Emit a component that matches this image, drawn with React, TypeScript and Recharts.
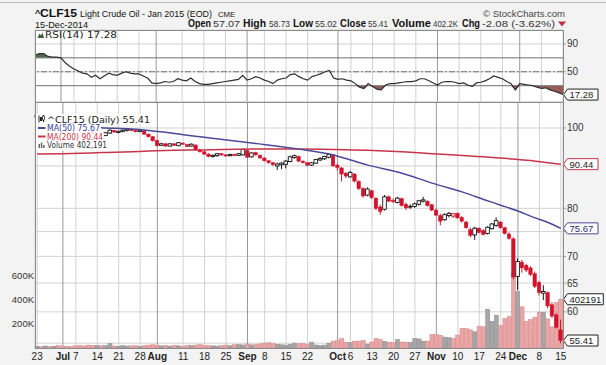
import React from 'react'
import {
  ComposedChart,
  Bar,
  Line,
  Area,
  XAxis,
  YAxis,
  CartesianGrid,
  ReferenceLine,
} from 'recharts'

// trading days shown on the chart
const dates = [
  'Jun 23', 'Jun 24', 'Jun 25', 'Jun 26', 'Jun 27', 'Jun 30',
  'Jul 1', 'Jul 2', 'Jul 3', 'Jul 7', 'Jul 8', 'Jul 9', 'Jul 10', 'Jul 11',
  'Jul 14', 'Jul 15', 'Jul 16', 'Jul 17', 'Jul 18',
  'Jul 21', 'Jul 22', 'Jul 23', 'Jul 24', 'Jul 25',
  'Jul 28', 'Jul 29', 'Jul 30', 'Jul 31', 'Aug 1',
  'Aug 4', 'Aug 5', 'Aug 6', 'Aug 7', 'Aug 8',
  'Aug 11', 'Aug 12', 'Aug 13', 'Aug 14', 'Aug 15',
  'Aug 18', 'Aug 19', 'Aug 20', 'Aug 21', 'Aug 22',
  'Aug 25', 'Aug 26', 'Aug 27', 'Aug 28', 'Aug 29',
  'Sep 2', 'Sep 3', 'Sep 4', 'Sep 5',
  'Sep 8', 'Sep 9', 'Sep 10', 'Sep 11', 'Sep 12',
  'Sep 15', 'Sep 16', 'Sep 17', 'Sep 18', 'Sep 19',
  'Sep 22', 'Sep 23', 'Sep 24', 'Sep 25', 'Sep 26',
  'Sep 29', 'Sep 30',
  'Oct 1', 'Oct 2', 'Oct 3',
  'Oct 6', 'Oct 7', 'Oct 8', 'Oct 9', 'Oct 10',
  'Oct 13', 'Oct 14', 'Oct 15', 'Oct 16', 'Oct 17',
  'Oct 20', 'Oct 21', 'Oct 22', 'Oct 23', 'Oct 24',
  'Oct 27', 'Oct 28', 'Oct 29', 'Oct 30', 'Oct 31',
  'Nov 3', 'Nov 4', 'Nov 5', 'Nov 6', 'Nov 7',
  'Nov 10', 'Nov 11', 'Nov 12', 'Nov 13', 'Nov 14',
  'Nov 17', 'Nov 18', 'Nov 19', 'Nov 20', 'Nov 21',
  'Nov 24', 'Nov 25', 'Nov 26', 'Nov 28',
  'Dec 1', 'Dec 2', 'Dec 3', 'Dec 4', 'Dec 5',
  'Dec 8', 'Dec 9', 'Dec 10', 'Dec 11', 'Dec 12',
  'Dec 15',
]

const opens = [
  103.4, 103.6, 103.2, 103.5, 103.0, 103.1, 102.6, 102.3, 101.6, 101.0,
  100.4, 99.9, 99.2, 98.9, 98.0, 98.3, 97.9, 98.6, 99.3, 98.8,
  99.1, 99.4, 99.6, 99.3, 99.0, 99.2, 98.3, 97.6, 96.6, 95.3,
  95.7, 95.1, 95.7, 95.2, 95.9, 95.5, 95.1, 95.4, 94.1, 93.6,
  93.0, 92.4, 92.6, 93.1, 92.8, 92.6, 92.9, 92.7, 92.8, 94.0,
  92.3, 93.4, 92.7, 92.0, 91.3, 90.8, 90.0, 90.3, 90.4, 91.1,
  92.1, 92.4, 91.2, 90.8, 90.2, 90.7, 91.5, 91.8, 92.2, 92.9,
  90.2, 89.5, 88.2, 87.3, 88.0, 86.2, 84.5, 83.0, 84.0, 82.3,
  80.3, 79.8, 82.6, 81.8, 81.3, 82.2, 80.9, 80.5, 80.4, 80.9,
  81.6, 81.6, 80.8, 79.6, 78.4, 77.5, 78.4, 78.3, 78.9, 78.0,
  77.0, 75.4, 74.3, 75.7, 75.2, 74.6, 75.6, 76.3, 77.0, 75.8,
  74.5, 73.5, 66.2, 68.9, 68.3, 67.8, 66.7, 65.1, 63.2, 63.3,
  61.2, 59.5, 57.07,
]

const highs = [
  103.9, 104.0, 103.8, 103.7, 103.4, 103.3, 103.0, 102.5, 101.9, 101.3,
  100.8, 100.1, 99.6, 99.1, 98.6, 98.5, 98.9, 99.6, 99.5, 99.3,
  99.6, 99.9, 99.8, 99.5, 99.6, 99.4, 98.5, 97.8, 96.8, 96.0,
  95.9, 95.9, 95.9, 96.2, 96.1, 95.7, 95.8, 95.5, 94.4, 93.8,
  93.2, 92.9, 93.3, 93.3, 93.0, 93.1, 93.1, 93.3, 94.5, 94.2,
  93.5, 93.6, 92.9, 92.2, 91.5, 91.0, 90.8, 91.0, 91.5, 92.6,
  92.9, 92.6, 91.4, 91.0, 91.0, 91.8, 92.2, 92.6, 93.2, 93.0,
  90.6, 89.7, 88.5, 88.8, 88.2, 86.5, 84.8, 84.8, 84.2, 82.5,
  80.8, 83.0, 82.9, 82.2, 82.6, 82.4, 81.3, 80.9, 81.3, 81.9,
  82.6, 81.8, 81.0, 79.9, 78.8, 78.9, 79.2, 79.0, 79.1, 78.3,
  77.3, 75.8, 76.0, 75.9, 75.5, 76.1, 76.8, 78.0, 77.2, 76.0,
  74.8, 73.8, 69.6, 69.3, 68.6, 68.1, 67.1, 65.4, 64.6, 63.5,
  61.6, 59.8, 58.73,
]

const lows = [
  102.9, 103.0, 102.7, 102.8, 102.6, 102.3, 102.0, 101.4, 100.9, 100.2,
  99.6, 99.0, 98.6, 97.8, 97.7, 97.6, 97.8, 98.4, 98.6, 98.5,
  98.8, 99.0, 99.1, 98.8, 98.9, 98.1, 97.4, 96.3, 95.0, 95.1,
  94.9, 95.0, 95.1, 95.1, 95.4, 94.8, 94.9, 93.9, 93.4, 92.8,
  92.2, 92.1, 92.3, 92.6, 92.4, 92.4, 92.5, 92.6, 92.6, 92.0,
  92.1, 92.6, 91.8, 91.1, 90.6, 90.0, 89.0, 89.2, 89.4, 90.9,
  91.8, 91.0, 90.6, 89.9, 90.0, 90.5, 91.2, 91.5, 91.9, 89.8,
  88.9, 86.2, 87.0, 87.1, 86.0, 84.2, 82.4, 82.7, 82.1, 79.6,
  78.6, 79.5, 81.4, 81.2, 81.1, 80.4, 79.6, 79.9, 80.1, 80.6,
  81.3, 80.4, 79.4, 78.3, 76.3, 77.3, 78.0, 77.9, 77.7, 76.9,
  75.6, 73.8, 73.3, 74.6, 74.2, 74.4, 75.4, 76.0, 75.6, 74.4,
  73.3, 65.7, 63.8, 66.9, 67.0, 66.3, 64.1, 62.8, 62.0, 60.6,
  59.0, 57.3, 55.02,
]

const closes = [
  103.5, 103.3, 103.6, 103.0, 103.1, 102.6, 102.3, 101.6, 101.1, 100.4,
  99.9, 99.2, 99.0, 98.0, 98.4, 97.9, 98.7, 99.4, 98.9, 99.1,
  99.4, 99.7, 99.3, 99.1, 99.4, 98.3, 97.6, 96.5, 95.2, 95.7,
  95.1, 95.7, 95.3, 96.0, 95.6, 95.0, 95.6, 94.1, 93.6, 93.0,
  92.4, 92.7, 93.1, 92.8, 92.6, 92.9, 92.7, 93.1, 94.2, 92.2,
  93.3, 92.8, 92.0, 91.3, 90.8, 90.3, 90.5, 90.7, 91.2, 92.3,
  92.6, 91.2, 90.8, 90.2, 90.8, 91.6, 91.9, 92.4, 92.9, 90.0,
  89.6, 88.0, 87.5, 88.4, 86.3, 84.5, 82.8, 84.4, 82.4, 80.0,
  79.3, 82.6, 81.6, 81.5, 82.3, 80.6, 80.1, 80.3, 81.0, 81.7,
  81.9, 80.6, 79.6, 78.5, 77.2, 78.6, 78.9, 78.8, 77.9, 77.2,
  75.8, 74.2, 75.7, 74.8, 74.4, 75.9, 76.6, 77.3, 75.8, 74.6,
  73.6, 66.1, 69.0, 67.8, 67.4, 66.6, 64.4, 63.3, 63.5, 61.0,
  59.3, 57.49, 55.41,
]

const volumes = [
  14000, 12000, 17000, 13000, 15000, 19000, 16000, 14000, 11000, 18000,
  21000, 17000, 24000, 20000, 22000, 18000, 20000, 36000, 17000, 15000,
  21000, 16000, 18000, 19000, 14000, 20000, 24000, 27000, 22000, 18000,
  21000, 16000, 23000, 18000, 15000, 22000, 20000, 25000, 27000, 22000,
  20000, 18000, 16000, 21000, 24000, 19000, 27000, 29000, 25000, 33000,
  26000, 28000, 34000, 40000, 44000, 38000, 30000, 27000, 24000, 30000,
  40000, 35000, 37000, 30000, 48000, 25000, 20000, 24000, 40000, 57000,
  62000, 79000, 48000, 45000, 57000, 57000, 62000, 32000, 50000, 79000,
  70000, 55000, 48000, 45000, 70000, 50000, 48000, 45000, 79000, 75000,
  57000, 57000, 113000, 110000, 105000, 90000, 85000, 80000, 107000, 162000,
  160000, 150000, 134000, 180000, 175000, 320000, 221000, 271000, 187000, 243000,
  260000, 620000, 465000, 340000, 220000, 235000, 255000, 296000, 296000, 240000,
  175000, 375000, 402191,
]

const rsi14 = [
  74, 76, 76, 72, 71, 71, 70, 63, 58, 54,
  51, 48, 47, 42, 45, 40, 44, 48, 46, 45,
  48, 50, 48, 47, 47, 44, 41, 34, 33, 34,
  36, 35, 36, 40, 38, 37, 41, 36, 33, 32,
  32, 33, 34, 35, 36, 37, 38, 39, 45, 38,
  40, 43, 41, 38, 36, 33, 38, 40, 41, 46,
  47, 43, 40, 38, 43, 45, 47, 50, 52, 41,
  39, 40, 38, 37, 33, 28, 26, 33, 29, 25,
  24, 31, 33, 33, 34, 35, 36, 36, 37, 40,
  40, 37, 34, 31, 35, 36, 36, 35, 33, 34,
  31, 29, 34, 35, 37, 40, 44, 42, 40, 36,
  33, 24, 33, 32, 31, 30, 28, 26, 27, 24,
  22, 20, 17.28,
]

// moving averages at a few dates
const maDates = [
  'Jun 23', 'Jul 8', 'Jul 15', 'Jul 24', 'Jul 30', 'Aug 15', 'Sep 3', 'Sep 18', 'Sep 30', 'Oct 10',
  'Oct 22', 'Oct 31', 'Nov 12', 'Nov 18', 'Nov 24', 'Dec 1', 'Dec 5', 'Dec 10', 'Dec 15',
]
const ma50 = [101.0, 100.6, 100.1, 99.7, 99.3, 97.6, 95.9, 94.3, 92.8, 90.2, 88.2, 85.8, 83.4, 82.0, 80.7, 79.4, 77.9, 76.9, 75.67]
const ma200 = [93.0, 93.2, 93.4, 93.6, 93.8, 94.1, 94.3, 94.3, 94.2, 94.0, 93.6, 93.1, 92.6, 92.3, 92.0, 91.6, 91.2, 90.8, 90.44]

const tickDates = [
  'Jun 23', 'Jul 1', 'Jul 7', 'Jul 14', 'Jul 21', 'Jul 28', 'Aug 1', 'Aug 11', 'Aug 18', 'Aug 25',
  'Sep 2', 'Sep 8', 'Sep 15', 'Sep 22', 'Oct 1', 'Oct 6', 'Oct 13', 'Oct 20', 'Oct 27', 'Nov 3',
  'Nov 10', 'Nov 17', 'Nov 24', 'Dec 1', 'Dec 8', 'Dec 15',
]
const tickLabels = [
  '23', 'Jul', '7', '14', '21', '28', 'Aug', '11', '18', '25',
  'Sep', '8', '15', '22', 'Oct', '6', '13', '20', '27', 'Nov',
  '10', '17', '24', 'Dec', '8', '15',
]
const rsiTicks = [10, 30, 50, 70, 90]
const priceTicks = [55, 60, 65, 70, 75, 80, 85, 90, 95, 100]
const hiddenPriceLabels = [55, 75, 90]
const volumeTicks = [200000, 400000, 600000]

// label, value, label x, label width, value x, value width
const header = [
  ['Open', '57.07', 188, 23, 213, 27],
  ['High', '58.73', 243, 23, 269, 21],
  ['Low', '55.02', 293, 20, 315, 22],
  ['Close', '55.41', 340, 26, 368, 20],
  ['Volume', '402.2K', 392, 39, 433, 25],
  ['Chg', '-2.08 (-3.62%)', 462, 18, 482, 73],
]

const data = dates.map((date, i) => {
  const m = maDates.indexOf(date)
  return {
    date,
    open: opens[i],
    high: highs[i],
    low: lows[i],
    close: closes[i],
    prevClose: i > 0 ? closes[i - 1] : opens[i],
    volume: volumes[i],
    rsi: rsi14[i],
    ma50: m >= 0 ? ma50[m] : null,
    ma200: m >= 0 ? ma200[m] : null,
  }
})
const last = data.length - 1

const SANS = '"Liberation Sans", Arial, sans-serif'
const WIDE = '"DejaVu Sans", Verdana, sans-serif'
const RED = '#d3122b'

function ValueBox({ y, text, color, textColor = '#222' }: any) {
  const x0 = 563.5
  const bx = x0 + 4
  const w = text.length * 5.3 + 4
  return (
    <g>
      <path
        d={`M${x0},${y} L${bx},${y - 5.5} L${bx + w},${y - 5.5} L${bx + w},${y + 5.5} L${bx},${y + 5.5} Z`}
        fill="#fff"
        stroke={color}
        strokeWidth={1}
      />
      <text x={bx + 2} y={y + 3.5} fontSize={9.5} fill={textColor} fontFamily={SANS}>
        {text}
      </text>
    </g>
  )
}

function Candle(props: any) {
  const { x, y, width, height, payload, index } = props
  if (!payload) return null
  const { open, close, high, low, prevClose } = payload
  const h = Math.abs(height)
  const top = height >= 0 ? y : y + height
  const lh = Math.log(high)
  const span = lh - Math.log(low)
  const py = (v: number) => top + ((lh - Math.log(v)) / span) * h
  const color = close >= prevClose ? '#151515' : RED
  const hollow = close > open
  const cx = x + width / 2
  const bTop = py(Math.max(open, close))
  const bh = Math.max(py(Math.min(open, close)) - bTop, 1.2)
  return (
    <g>
      <line x1={cx} x2={cx} y1={top} y2={top + h} stroke={color} strokeWidth={1} />
      <rect
        x={x}
        y={bTop}
        width={width}
        height={bh}
        fill={hollow ? '#fff' : color}
        stroke={color}
        strokeWidth={hollow ? 0.9 : 0.4}
      />
      {index === last && <ValueBox y={py(close)} text={close.toFixed(2)} color="#222" />}
    </g>
  )
}

function VolumeBar(props: any) {
  const { x, y, width, height, payload, index } = props
  if (!payload) return null
  const down = payload.close < payload.prevClose
  return (
    <g>
      <rect
        x={x}
        y={y}
        width={width}
        height={height}
        fill={down ? '#eaa6a6' : '#a6a6a6'}
        stroke={down ? '#d48585' : '#8a8a8a'}
        strokeWidth={0.5}
      />
      {index === last && <ValueBox y={y} text={String(payload.volume)} color="#222" />}
    </g>
  )
}

const gridV = (p: any) => {
  const month = p.index < tickLabels.length && /[A-Z]/.test(tickLabels[p.index])
  return (
    <line
      key={`v-${p.index}`}
      x1={p.x1}
      y1={p.y1}
      x2={p.x2}
      y2={p.y2}
      stroke={month ? '#999' : '#d2d2d2'}
      strokeWidth={1}
    />
  )
}

const DateTick = (props: any) => {
  const { x, y, payload } = props
  const label = tickLabels[tickDates.indexOf(payload.value)]
  const month = /[A-Z]/.test(label || '')
  return (
    <text
      x={x}
      y={y + 12}
      textAnchor="middle"
      fontSize={10}
      fontWeight={month ? 700 : 400}
      fill="#222"
      fontFamily={SANS}
    >
      {label}
    </text>
  )
}

const RightTick = (props: any) => {
  const { x, y, payload } = props
  if (hiddenPriceLabels.includes(payload.value) && props.price) return null
  return (
    <text x={x} y={y + 3.5} fontSize={10} fill="#333" fontFamily={SANS}>
      {payload.value}
    </text>
  )
}

const VolTick = (props: any) => {
  const { x, y, payload } = props
  return (
    <text x={x} y={y + 3.5} textAnchor="end" fontSize={9.5} fill="#333" fontFamily={SANS}>
      {`${payload.value / 1000}K`}
    </text>
  )
}

const lastLabel = (color: string, textColor: string) => (p: any) =>
  p.index === last ? <ValueBox y={p.y} text={String(p.value)} color={color} textColor={textColor} /> : null

export default function App() {
  return (
    <div
      style={{
        position: 'fixed',
        left: 0,
        top: 0,
        width: 606,
        height: 365,
        background: '#f3f3f3',
        overflow: 'hidden',
      }}
    >
      <div style={{ position: 'absolute', left: 0, top: 0 }}>
        <ComposedChart width={606} height={102} data={data} margin={{ top: 30, right: 0, bottom: 0, left: 35 }}>
          <CartesianGrid fill="#fff" stroke="#d2d2d2" vertical={gridV} />
          <XAxis dataKey="date" ticks={tickDates} interval={0} hide />
          <YAxis
            orientation="right"
            width={43}
            domain={[6.6, 110]}
            ticks={rsiTicks}
            axisLine={false}
            tickSize={3}
            tickMargin={1}
            tickLine={{ stroke: '#999' }}
            tick={<RightTick />}
          />
          <ReferenceLine y={70} stroke="#707070" />
          <ReferenceLine y={30} stroke="#707070" />
          <ReferenceLine y={50} stroke="#707070" strokeDasharray="6 2 2 2" />
          <Area
            dataKey={(d: any) => [70, Math.max(d.rsi, 70)]}
            type="linear"
            stroke="none"
            fill="#3f5c3f"
            fillOpacity={0.9}
            activeDot={false}
            isAnimationActive={false}
          />
          <Area
            dataKey={(d: any) => [Math.min(d.rsi, 30), 30]}
            type="linear"
            stroke="none"
            fill="#8d4a45"
            fillOpacity={0.9}
            activeDot={false}
            isAnimationActive={false}
          />
          <Line
            dataKey="rsi"
            type="linear"
            stroke="#2e2e2e"
            strokeWidth={1.2}
            dot={false}
            label={lastLabel('#222', '#222')}
            isAnimationActive={false}
          />
        </ComposedChart>
      </div>

      <div style={{ position: 'absolute', left: 0, top: 0 }}>
        <ComposedChart width={606} height={365} data={data} margin={{ top: 102, right: 0, bottom: 0, left: 0 }}>
          <CartesianGrid xAxisId="d" yAxisId="price" fill="#fff" stroke="#d2d2d2" vertical={gridV} />
          <XAxis
            xAxisId="d"
            dataKey="date"
            ticks={tickDates}
            interval={0}
            height={17}
            axisLine={false}
            tickLine={false}
            tickSize={0}
            tickMargin={0}
            tick={<DateTick />}
          />
          <XAxis xAxisId="v" dataKey="date" hide />
          <YAxis
            yAxisId="price"
            orientation="right"
            width={43}
            scale="log"
            domain={[54.27, 107.49]}
            ticks={priceTicks}
            axisLine={false}
            tickSize={3}
            tickMargin={1}
            tickLine={{ stroke: '#999' }}
            tick={<RightTick price />}
          />
          <YAxis
            yAxisId="vol"
            orientation="left"
            width={35}
            domain={[0, 2030000]}
            ticks={volumeTicks}
            axisLine={false}
            tickLine={false}
            tickSize={0}
            tickMargin={1}
            tick={<VolTick />}
          />
          <Bar
            xAxisId="v"
            yAxisId="vol"
            dataKey="volume"
            barSize={4}
            shape={<VolumeBar />}
            isAnimationActive={false}
          />
          <Line
            xAxisId="d"
            yAxisId="price"
            dataKey="ma200"
            type="monotone"
            connectNulls
            stroke="#c8354a"
            strokeWidth={1.5}
            dot={false}
            label={lastLabel('#c8354a', '#222')}
            isAnimationActive={false}
          />
          <Line
            xAxisId="d"
            yAxisId="price"
            dataKey="ma50"
            type="monotone"
            connectNulls
            stroke="#4a4a98"
            strokeWidth={1.5}
            dot={false}
            label={lastLabel('#4a4a98', '#2a2a70')}
            isAnimationActive={false}
          />
          <Bar
            xAxisId="d"
            yAxisId="price"
            dataKey={(d: any) => [d.low, d.high]}
            barSize={3.6}
            shape={<Candle />}
            isAnimationActive={false}
          />
        </ComposedChart>
      </div>

      <div
        style={{
          position: 'absolute',
          left: 35,
          top: 30,
          width: 529,
          height: 73,
          boxSizing: 'border-box',
          border: '1px solid #8c8c8c',
          pointerEvents: 'none',
        }}
      />
      <div
        style={{
          position: 'absolute',
          left: 35,
          top: 102,
          width: 529,
          height: 247,
          boxSizing: 'border-box',
          border: '1px solid #8c8c8c',
          pointerEvents: 'none',
        }}
      />

      <svg width={606} height={365} style={{ position: 'absolute', left: 0, top: 0, pointerEvents: 'none' }}>
        <line x1={0} x2={606} y1={2.5} y2={2.5} stroke="#b8b8b8" />
        <text x={35} y={15.5} fontSize={9} fontWeight={700} fontFamily={SANS} fill="#111">^</text>
        <text x={40} y={17} fontSize={11.5} fontWeight={700} fontFamily={SANS} fill="#111" textLength={37} lengthAdjust="spacingAndGlyphs">CLF15</text>
        <text x={80} y={17} fontSize={9} fontFamily={SANS} fill="#111" textLength={132} lengthAdjust="spacingAndGlyphs">Light Crude Oil - Jan 2015 (EOD)</text>
        <text x={218} y={17} fontSize={7.5} fontFamily={SANS} fill="#111" textLength={17} lengthAdjust="spacingAndGlyphs">CME</text>
        <text x={565} y={16.5} textAnchor="end" fontSize={9.5} fontFamily={SANS} fill="#444">© StockCharts.com</text>
        <text x={35} y={27.5} fontSize={9} fontFamily={SANS} fill="#111" textLength={53} lengthAdjust="spacingAndGlyphs">15-Dec-2014</text>
        {header.map(([label, value, lx, lw, vx, vw]) => (
          <g key={label as string}>
            <text x={lx as number} y={27} fontSize={10} fontWeight={700} fontFamily={SANS} fill="#111" textLength={lw as number} lengthAdjust="spacingAndGlyphs">{label}</text>
            <text x={vx as number} y={27} fontSize={9} fontFamily={SANS} fill="#333" textLength={vw as number} lengthAdjust="spacingAndGlyphs">{value}</text>
          </g>
        ))}
        <path d="M558,21.5 L566,21.5 L562,26.5 Z" fill="#c0304a" />

        <polygon points="37.5,38 39.5,33.5 41,35.5 42.5,32.5 44,38" fill="#3f5c3f" />
        <text x={45} y={37.5} fontSize={9} fontFamily={WIDE} fill="#222" textLength={72} lengthAdjust="spacingAndGlyphs">RSI(14) 17.28</text>

        <rect x={36} y={114} width={115} height={9.5} fill="#fff" />
        <rect x={36} y={123.5} width={65} height={9} fill="#fff" />
        <rect x={36} y={132.5} width={68} height={9} fill="#fff" />
        <rect x={36} y={141.5} width={72} height={9} fill="#fff" />
        <line x1={39} x2={39} y1={115.5} y2={122.5} stroke="#222" />
        <rect x={40} y={117} width={2} height={4} fill="#222" />
        <line x1={43.5} x2={43.5} y1={115} y2={122} stroke="#222" />
        <rect x={42.5} y={116} width={2} height={4} fill="#fff" stroke="#222" strokeWidth={0.7} />
        <text x={47} y={122.5} fontSize={8.5} fontFamily={WIDE} fill="#222" textLength={103} lengthAdjust="spacingAndGlyphs">^CLF15 (Daily) 55.41</text>
        <line x1={38} x2={45.5} y1={128} y2={128} stroke="#4a4a98" strokeWidth={2} />
        <text x={47} y={131} fontSize={8.5} fontFamily={WIDE} fill="#3a3a96" textLength={53} lengthAdjust="spacingAndGlyphs">MA(50) 75.67</text>
        <line x1={38} x2={45.5} y1={136.5} y2={136.5} stroke="#c8354a" strokeWidth={2} />
        <text x={47} y={139.5} fontSize={8.5} fontFamily={WIDE} fill="#c8354a" textLength={56} lengthAdjust="spacingAndGlyphs">MA(200) 90.44</text>
        <rect x={38.5} y={144} width={1.5} height={4} fill="#666" />
        <rect x={40.8} y={142.5} width={1.5} height={5.5} fill="#666" />
        <rect x={43.1} y={145} width={1.5} height={3} fill="#666" />
        <text x={47} y={148} fontSize={8.5} fontFamily={WIDE} fill="#333" textLength={60} lengthAdjust="spacingAndGlyphs">Volume 402,191</text>
      </svg>
    </div>
  )
}
